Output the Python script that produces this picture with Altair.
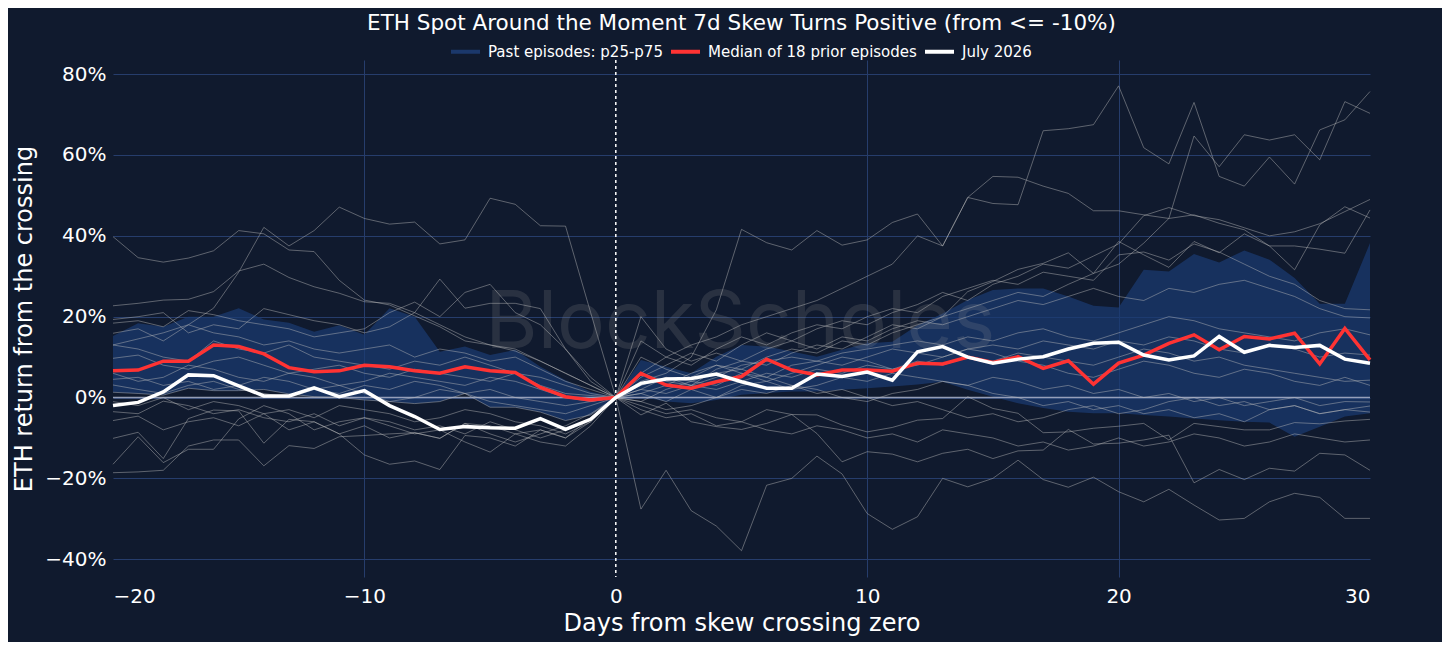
import altair as alt
import pandas as pd

days = list(range(-20, 31))

median = [6.6, 6.8, 9.0, 9.0, 13.0, 12.6, 10.8, 7.4, 6.4, 6.6, 8.0, 7.6, 6.6, 6.0, 7.6, 6.6, 6.2, 2.5, 0.2, -0.6, 0.0,
          6.0, 3.1, 2.3, 3.9, 5.2, 9.5, 6.8, 5.6, 6.8, 6.8, 6.5, 8.5, 8.3, 10.0, 8.7, 10.1, 7.2, 9.1, 3.3, 8.5,
          10.5, 13.4, 15.5, 11.8, 15.1, 14.5, 15.9, 8.3, 17.1, 9.3]

july = [-2.0, -1.2, 1.4, 5.6, 5.4, 2.9, 0.4, 0.4, 2.4, 0.2, 1.7, -2.0, -4.7, -7.9, -7.2, -7.5, -7.6, -5.2, -7.9, -5.4, 0.0,
        3.5, 4.6, 4.7, 5.8, 3.9, 2.3, 2.3, 5.8, 5.2, 6.3, 4.3, 11.3, 12.6, 10.0, 8.5, 9.5, 10.1, 12.0, 13.4, 13.7,
        10.5, 9.3, 10.3, 15.1, 11.2, 12.9, 12.4, 12.9, 9.5, 8.5]

band_hi = [15.2, 18.4, 17.5, 20.0, 20.0, 22.1, 19.3, 18.5, 16.3, 17.9, 15.5, 22.1, 20.0, 11.3, 12.6, 10.5, 11.8, 7.6, 4.3, 1.4, 0.0,
           9.3, 7.6, 6.0, 10.1, 13.0, 12.6, 11.4, 10.1, 11.8, 13.4, 13.8, 17.9, 20.8, 24.1, 26.6, 27.0, 27.0, 25.0, 22.7, 22.3,
           31.6, 31.2, 35.5, 33.4, 36.4, 34.1, 29.6, 23.2, 23.2, 38.2]

band_lo = [1.3, 1.0, 0.6, 2.3, 1.7, 1.7, 2.0, 0.9, 0.2, 0.0, -0.6, -1.0, -1.5, -1.0, 1.0, -2.4, -2.4, -3.6, -5.7, -4.3, 0.0,
           0.2, -1.0, -1.4, -0.6, 0.7, 1.1, 1.5, 1.5, 1.9, 2.3, 2.7, 3.2, 3.9, 1.9, 0.2, -1.4, -2.6, -3.5, -3.9, -3.9,
           -4.3, -4.7, -5.2, -5.6, -6.0, -6.2, -9.7, -7.2, -4.7, -3.9]

# past episodes, days -20 .. -1
ep_before = [
    [39.8, 34.6, 33.5, 34.5, 36.3, 41.3, 40.5, 36.5, 36.1, 29.0, 24.1, 22.9, 20.2, 17.5, 14.0, 13.0, 11.5, 9.0, 6.0, 3.0],
    [13.0, 14.5, 16.0, 18.0, 22.1, 31.0, 42.1, 37.5, 41.3, 47.1, 44.3, 42.9, 43.4, 38.0, 39.0, 49.3, 47.8, 42.5, 42.4, 21.0],
    [22.7, 23.3, 24.1, 24.3, 26.2, 31.3, 33.0, 29.7, 27.4, 25.8, 23.7, 23.3, 21.0, 18.0, 15.0, 13.0, 12.0, 9.0, 6.0, 3.0],
    [19.3, 20.0, 21.0, 16.0, 18.0, 17.0, 22.0, 20.5, 19.0, 18.0, 16.0, 17.5, 21.0, 29.3, 22.1, 23.3, 23.3, 22.0, 12.0, 5.0],
    [18.4, 19.0, 17.5, 21.5, 20.5, 19.0, 18.0, 17.0, 15.0, 16.0, 17.0, 21.0, 23.6, 20.0, 26.0, 28.0, 21.0, 18.0, 12.0, 4.0],
    [15.9, 17.0, 14.0, 18.0, 16.0, 15.0, 13.0, 14.0, 12.0, 11.0, 12.0, 13.0, 10.0, 12.0, 11.0, 9.0, 10.0, 7.0, 4.0, 2.0],
    [13.0, 12.0, 10.0, 9.0, 14.0, 12.0, 11.0, 13.0, 10.0, 9.0, 8.0, 7.0, 9.0, 8.0, 10.0, 8.0, 6.0, 5.0, 3.0, 1.0],
    [9.7, 10.5, 8.0, 7.0, 9.0, 10.0, 8.0, 6.0, 7.0, 8.0, 6.0, 5.0, 7.0, 6.0, 5.0, 4.0, 6.0, 3.0, 1.0, 0.5],
    [6.0, 4.0, 5.0, 8.0, 7.0, 5.0, 4.0, 6.0, 5.0, 3.0, 4.0, 6.0, 5.0, 4.0, 3.0, 5.0, 4.0, 2.0, 0.0, -1.0],
    [4.5, 5.0, 3.0, 4.0, 2.0, 3.0, 5.0, 4.0, 2.0, 1.0, 3.0, 2.0, 4.0, 3.0, 1.0, 2.0, 0.0, -1.0, -2.0, -1.0],
    [3.1, 2.0, 1.0, 3.0, 4.0, 2.0, 1.0, 0.0, 2.0, 3.0, 1.0, -1.0, 0.0, 2.0, 1.0, -1.0, -2.0, -3.0, -4.0, -2.0],
    [1.3, 1.0, 0.6, 2.3, 1.7, 1.7, 2.0, 0.9, 0.2, 0.0, -0.6, -1.0, -1.5, -1.0, 1.0, -2.4, -2.4, -3.6, -5.7, -4.3],
    [-1.0, -2.0, 0.0, -3.0, -1.0, -2.0, -4.0, -3.0, -5.0, -2.0, -3.0, -4.0, -6.0, -5.0, -3.0, -4.0, -6.0, -7.0, -9.0, -6.0],
    [-3.5, -4.0, -0.9, -2.0, -4.0, -3.0, -5.0, -6.0, -4.0, -7.0, -5.0, -6.0, -8.0, -7.0, -9.0, -6.0, -8.0, -10.0, -8.0, -5.0],
    [-5.7, -4.6, -8.0, -6.0, -5.0, -7.0, -4.0, -8.0, -6.0, -9.0, -7.0, -10.0, -8.7, -10.1, -6.4, -9.0, -11.0, -9.0, -7.0, -4.0],
    [-10.1, -8.6, -15.1, -5.2, -3.1, -3.3, -11.3, -5.4, -6.0, -9.0, -14.2, -16.5, -15.7, -17.8, -9.4, -10.0, -12.0, -8.0, -10.0, -6.0],
    [-16.5, -9.7, -16.1, -12.8, -12.8, -5.3, -2.0, -4.0, -8.0, -6.0, -5.0, -7.0, -9.0, -8.0, -11.0, -13.5, -9.0, -11.0, -12.0, -7.0],
    [-18.6, -18.4, -18.0, -12.0, -10.5, -10.5, -16.9, -11.9, -12.6, -9.7, -9.4, -9.0, -8.7, -10.1, -6.4, -7.0, -9.0, -8.0, -10.0, -5.0],
]

# past episodes, days 1 .. 30
ep_after = [
    [14, 10, 8, 12, 15, 13, 16, 18, 17, 20, 22, 21, 25, 27, 29, 28, 31, 30, 29, 35.3, 36, 34, 38, 36, 33, 30, 28, 24, 22, 21.7],
    [-27.6, -18, -28, -31.8, -37.9, -21.7, -20, -14.5, -18.9, -28.7, -32.6, -29.5, -20, -22.1, -20, -15.5, -20.3, -22.2, -19.7, -23.3, -25.8, -22.7, -26.6, -30.3, -29.9, -25.8, -23.7, -24.7, -29.9, -29.9],
    [4, 6, 10, 21.7, 41.6, 38.3, 36.5, 41.3, 37.7, 39, 43.3, 45.4, 37.5, 49.5, 48, 47.7, 66, 66.5, 67.5, 77.1, 61.8, 57.8, 73, 54.7, 52.3, 59.5, 52.8, 66.2, 68.7, 75.7],
    [5, 8, 11, 9, 13, 16, 14, 17, 19, 18, 21, 23, 26, 24, 28, 30, 33, 32, 35, 38, 45, 47, 45, 44, 42, 40, 41, 43, 46, 49],
    [2, 5, 3, 7, 9, 8, 11, 13, 12, 15, 18, 17, 20, 22, 24, 26, 25, 28, 30.7, 33, 38.2, 44.3, 64.7, 57.1, 65, 63.7, 65, 58.8, 73.2, 70.3],
    [6, 10, 13, 15, 18, 20, 22, 24, 27, 30, 33, 40, 37.5, 49.5, 54.7, 54.5, 52.3, 50.5, 46.2, 46.2, 45.2, 44.3, 45.2, 43.1, 41.5, 37.5, 37.5, 36.7, 35.7, 46.4],
    [1, 3, 6, 8, 7, 10, 12, 11, 14, 13, 16, 18, 20, 26.2, 28.7, 31.7, 33.2, 35.8, 30.7, 38.6, 35.3, 32.2, 38.6, 35.8, 40.5, 37.5, 31.6, 42.7, 47.2, 44.4],
    [6, 4, 3, 5, 8, 9, 10, 9, 11, 12, 13, 14, 13, 15, 14, 16, 17, 15, 14, 16, 18, 20, 19, 17, 16, 15, 14, 16, 17, 15.5],
    [3, 5, 4, 6, 7, 5, 8, 9, 8, 10, 12, 11, 10, 12, 13, 12, 14, 13, 12, 14, 13, 15, 14, 12, 11, 13, 12, 10, 11, 10.5],
    [2, 1, 3, 2, 4, 6, 5, 7, 6, 8, 7, 9, 8, 10, 9, 11, 10, 9, 8, 10, 12, 11, 9, 10, 8, 7, 6, 5, 4, 4.3],
    [1, -1, 2, 0, 3, 4, 2, 3, 5, 4, 6, 5, 4, 3, 5, 4, 2, 3, 1, 2, 0, 1, -1, 0, -2, -1, 0, -2, -1, -1.1],
    [-1, 2, 4, 3, 6, 5, 3, 1, 2, 0, -2, -1, -3, -5, -4, -6, -5, -3, -2, -4, -3, -1, 0, -2, -1, -3, -2, -4, -3, -2.1],
    [-1, -3, -2, 0, 2, 1, 3, 2, 0, -1, 1, 2, 4, 3, 1, 0, -2, -1, -3, -2, -4, -3, -5, -4, -6, -3, -2, -4, -3, -3.6],
    [-4.3, -1.4, -6, -7.2, -7.9, -6.4, -4.2, -4.3, -6.8, -8.5, -7.4, -5.6, -5.2, 0.2, -2.7, -3.9, -8.7, -8.5, -7.6, -7.1, -6.4, -10.5, -6.4, -7.2, -8, -8, -6.2, -6.5, -5.8, -5.4],
    [-3, -5, -4, -7, -6, -8, -9, -7, -8, -10, -9, -11, -8, -9, -10, -12, -11, -13, -12, -10, -12, -11, -9, -10, -12, -11, -9, -10, -11, -10.5],
    [20, 12, 9, 11, 9, 12, 14, 12, 15, 14, 17, 19, 18, 20, 22, 24, 23, 25, 27, 25, 24, 27, 26, 28, 29, 27, 25, 22, 20, 19.7],
    [-2, -4, -3, -5, -6, -3, -4.2, -8.9, -15.9, -13.4, -14, -15.9, -13.8, -12.8, -15.1, -13.2, -13, -7.9, -11.5, -11.3, -10.5, -9.3, -21.1, -17.8, -20.3, -17.5, -18.2, -13.8, -14.2, -18],
    [10, 7, 5, 8, 6, 4, 6, 8, 10, 9, 7, 8, 10, 12, 11, 9, 8, 6, 5, 7, 9, 8, 6, 5, 7, 6, 4, 3, 5, 3],
]

band_label = "Past episodes: p25-p75"
median_label = "Median of 18 prior episodes"
july_label = "July 2026"
title_text = "ETH Spot Around the Moment 7d Skew Turns Positive (from <= -10%)"
watermark_text = "BlockScholes"

# ---------------------------------------------------------------- tables
ep_rows = []
for i, (b, a) in enumerate(zip(ep_before, ep_after)):
    vals = list(b) + [0.0] + list(a)
    for d, v in zip(days, vals):
        ep_rows.append({"episode": i, "day": d, "ret": float(v)})
ep_df = pd.DataFrame(ep_rows)

band_df = pd.DataFrame({"day": days, "lo": band_lo, "hi": band_hi})
med_df = pd.DataFrame({"day": days, "ret": median, "series": median_label})
jul_df = pd.DataFrame({"day": days, "ret": july, "series": july_label})
zero_df = pd.DataFrame({"v": [0]})
wm_df = pd.DataFrame({"t": [watermark_text]})

FONT = "DejaVu Sans"
BG = "#101a2e"

x_scale = alt.Scale(domain=[-20, 30], nice=False, zero=False)
y_scale = alt.Scale(domain=[-44.4, 83.5], nice=False, zero=False)
x_axis = alt.Axis(
    values=[-20, -10, 0, 10, 20, 30],
    labelPadding=9,
    titlePadding=5,
    gridOpacity={"condition": {"test": "datum.value <= -20 || datum.value >= 30 || datum.value == 0", "value": 0}, "value": 1},
)
y_axis = alt.Axis(
    values=[-40, -20, 0, 20, 40, 60, 80],
    labelExpr="format(datum.value, 'd') + '%'",
    labelPadding=7,
    titlePadding=8,
)
X_TITLE = "Days from skew crossing zero"
Y_TITLE = "ETH return from the crossing"


def X(field="day:Q"):
    return alt.X(field, scale=x_scale, axis=x_axis, title=X_TITLE)


def Y(field):
    return alt.Y(field, scale=y_scale, axis=y_axis, title=Y_TITLE)


color_scale = alt.Scale(domain=[band_label, median_label, july_label],
                        range=["#1b386b", "#ff3333", "#ffffff"])
legend = alt.Legend(
    orient="none", legendX=336, legendY=-25, direction="horizontal", title=None,
    symbolType="stroke", symbolStrokeWidth=4, symbolSize=841,
    labelFontSize=15, labelFont=FONT, labelColor="white", labelLimit=0,
    labelOffset=6, columnPadding=0,
)

band = alt.Chart(band_df).mark_area(color="#1b3a72", opacity=0.72).encode(
    x=X(), y=Y("lo:Q"), y2="hi:Q"
)

watermark = alt.Chart(wm_df).mark_text(
    font="Inter", fontSize=80, color="#9a9a9a", opacity=0.18,
    align="center", baseline="alphabetic",
).encode(x=alt.datum(4.95), y=alt.datum(12.2), text="t:N")

zero = alt.Chart(zero_df).mark_rule(color="#a3acc4", strokeWidth=1.6, opacity=0.9).encode(
    y=alt.Y("v:Q", scale=y_scale, axis=y_axis, title=Y_TITLE)
)

episodes = alt.Chart(ep_df).mark_line(color="#bdbdbd", opacity=0.45, strokeWidth=1).encode(
    x=X(), y=Y("ret:Q"), detail="episode:N"
)

vline = alt.Chart(zero_df).mark_rule(color="white", strokeWidth=1.5, strokeDash=[3, 3]).encode(
    x=alt.X("v:Q", scale=x_scale, axis=x_axis, title=X_TITLE)
)

med = alt.Chart(med_df).mark_line(strokeWidth=3.5).encode(
    x=X(), y=Y("ret:Q"),
    color=alt.Color("series:N", scale=color_scale, legend=legend),
)

jul = alt.Chart(jul_df).mark_line(strokeWidth=3.5).encode(
    x=X(), y=Y("ret:Q"),
    color=alt.Color("series:N", scale=color_scale, legend=legend),
)

chart = alt.layer(band, watermark, zero, episodes, vline, med, jul).properties(
    width=1257,
    height=517,
    background=BG,
    padding={"left": 105, "top": 52, "right": 72, "bottom": 65},
    autosize=alt.AutoSizeParams(type="none"),
    title=alt.TitleParams(
        text=title_text, color="white", font=FONT, fontSize=21.5,
        fontWeight="normal", anchor="middle", offset=1,
    ),
).configure_view(
    strokeWidth=0
).configure_axis(
    labelColor="white", titleColor="white",
    labelFont=FONT, titleFont=FONT,
    labelFontSize=20, titleFontSize=24, titleFontWeight="normal",
    domain=False, ticks=False,
    gridColor="#263d6c", gridWidth=1,
)

chart.save("out.html", embed_options={"renderer": "svg", "actions": False})
